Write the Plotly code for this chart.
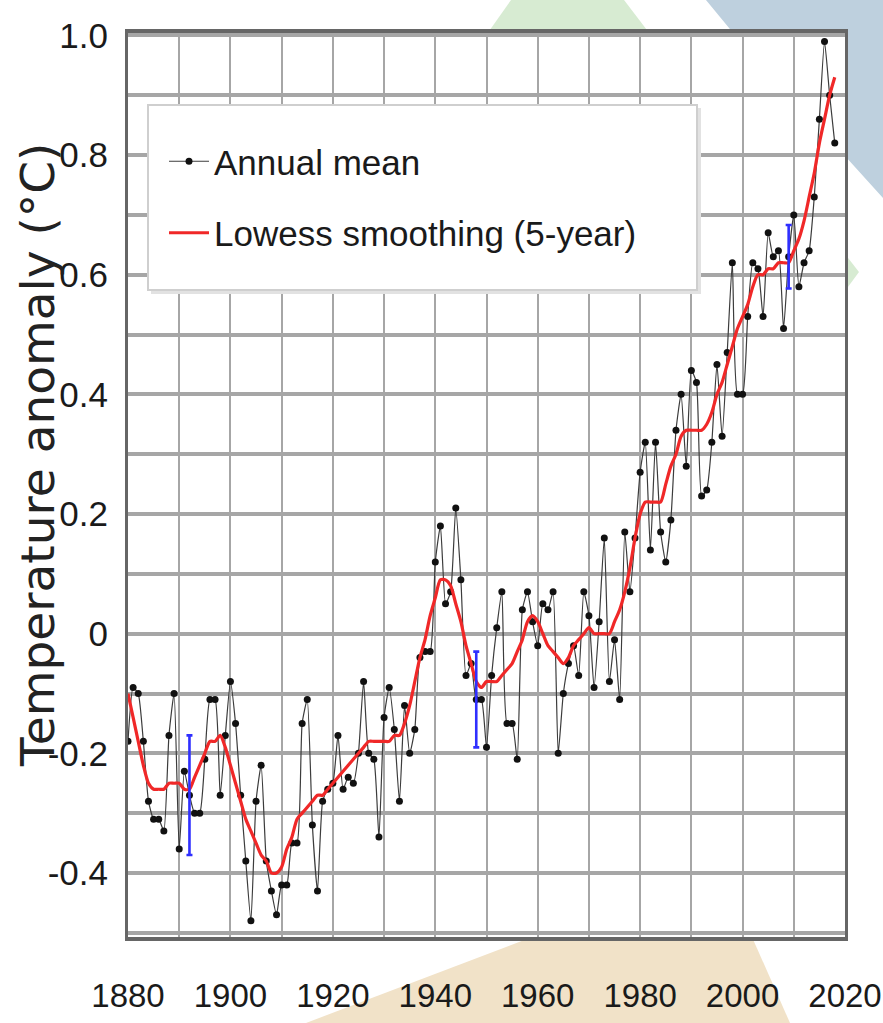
import plotly.graph_objects as go

# ---- data -------------------------------------------------------------
years = list(range(1880, 2019))

annual_mean = [
    -0.18, -0.09, -0.10, -0.18, -0.28, -0.31, -0.31, -0.33, -0.17, -0.10,   # 1880s
    -0.36, -0.23, -0.27, -0.30, -0.30, -0.21, -0.11, -0.11, -0.27, -0.17,   # 1890s
    -0.08, -0.15, -0.27, -0.38, -0.48, -0.28, -0.22, -0.38, -0.43, -0.47,   # 1900s
    -0.42, -0.42, -0.35, -0.35, -0.15, -0.11, -0.32, -0.43, -0.28, -0.26,   # 1910s
    -0.25, -0.17, -0.26, -0.24, -0.25, -0.20, -0.08, -0.20, -0.21, -0.34,   # 1920s
    -0.14, -0.09, -0.16, -0.28, -0.12, -0.20, -0.16, -0.04, -0.03, -0.03,   # 1930s
     0.12,  0.18,  0.05,  0.07,  0.21,  0.09, -0.07, -0.05, -0.11, -0.11,   # 1940s
    -0.19, -0.07,  0.01,  0.07, -0.15, -0.15, -0.21,  0.04,  0.07,  0.02,   # 1950s
    -0.02,  0.05,  0.04,  0.07, -0.20, -0.10, -0.05, -0.02, -0.07,  0.07,   # 1960s
     0.03, -0.09,  0.02,  0.16, -0.08, -0.01, -0.11,  0.17,  0.07,  0.16,   # 1970s
     0.27,  0.32,  0.14,  0.32,  0.17,  0.12,  0.19,  0.34,  0.40,  0.28,   # 1980s
     0.44,  0.42,  0.23,  0.24,  0.32,  0.45,  0.33,  0.47,  0.62,  0.40,   # 1990s
     0.40,  0.53,  0.62,  0.61,  0.53,  0.67,  0.63,  0.64,  0.51,  0.63,   # 2000s
     0.70,  0.58,  0.62,  0.64,  0.73,  0.86,  0.99,  0.90,  0.82,          # 2010s
]

lowess_5yr = [
    -0.10, -0.14, -0.18, -0.22, -0.25, -0.26, -0.26, -0.26, -0.25, -0.25,
    -0.25, -0.26, -0.26, -0.24, -0.22, -0.20, -0.18, -0.18, -0.17, -0.19,
    -0.22, -0.25, -0.28, -0.31, -0.33, -0.35, -0.37, -0.38, -0.40, -0.40,
    -0.39, -0.36, -0.34, -0.31, -0.30, -0.29, -0.28, -0.27, -0.27, -0.26,
    -0.25, -0.24, -0.23, -0.22, -0.21, -0.20, -0.19, -0.18, -0.18, -0.18,
    -0.18, -0.18, -0.17, -0.17, -0.15, -0.12, -0.08, -0.04, -0.01,  0.03,
     0.06,  0.09,  0.09,  0.08,  0.05,  0.02, -0.02, -0.05, -0.08, -0.09,
    -0.08, -0.08, -0.08, -0.07, -0.06, -0.05, -0.03, -0.01,  0.02,  0.03,
     0.02,  0.00, -0.02, -0.03, -0.04, -0.05, -0.04, -0.02, -0.01,  0.00,
     0.01,  0.00,  0.00,  0.00,  0.00,  0.02,  0.04,  0.07,  0.11,  0.16,
     0.20,  0.22,  0.22,  0.22,  0.22,  0.25,  0.28,  0.30,  0.33,  0.34,
     0.34,  0.34,  0.34,  0.35,  0.37,  0.40,  0.42,  0.45,  0.48,  0.51,
     0.53,  0.55,  0.58,  0.60,  0.60,  0.61,  0.61,  0.62,  0.62,  0.62,
     0.64,  0.66,  0.69,  0.73,  0.77,  0.82,  0.86,  0.90,  0.93,
]

uncertainty_years = [1892, 1948, 2009]
uncertainty_half = [0.10, 0.08, 0.053]

x_tick_vals = [1880, 1900, 1920, 1940, 1960, 1980, 2000, 2020]
y_tick_vals = [-0.4, -0.2, 0.0, 0.2, 0.4, 0.6, 0.8, 1.0]
y_tick_text = ["-0.4", "-0.2", "0", "0.2", "0.4", "0.6", "0.8", "1.0"]

# ---- styling ----------------------------------------------------------
W, H = 883, 1023
ML, MR, MT, MB = 128, 38, 33, 86
SANS = "Liberation Sans, Arial, sans-serif"
WIDE = "DejaVu Sans, Liberation Sans, sans-serif"
GRID = "#a6a6a6"
FRAME = "#666666"
TEXT = "#1a1a1a"

fig = go.Figure()

fig.add_trace(go.Scatter(
    x=years, y=annual_mean, mode="lines+markers", name="Annual mean",
    line=dict(color="#3c3c3c", width=1.2, shape="spline", smoothing=0.5),
    marker=dict(color="#111111", size=7),
    legendgroup="annual",
))
fig.add_trace(go.Scatter(
    x=years, y=lowess_5yr, mode="lines", name="Lowess smoothing (5-year)",
    line=dict(color="#f02828", width=3.2, shape="spline", smoothing=0.7),
    legendgroup="lowess",
))

unc_centers = [annual_mean[years.index(y)] for y in uncertainty_years]
fig.add_trace(go.Scatter(
    x=uncertainty_years, y=unc_centers, mode="markers",
    marker=dict(size=2, color="rgba(0,0,0,0)"),
    error_y=dict(type="data", array=uncertainty_half, color="#2f2fff",
                 thickness=2.6, width=3),
    showlegend=False, hoverinfo="skip",
))


# page pixels -> paper fractions
def px(xp):
    return (xp - ML) / (W - ML - MR)


def py(yp):
    return (H - MB - yp) / (H - MT - MB)


def poly(points, color):
    path = "M " + " L ".join(f"{px(a):.4f},{py(b):.4f}" for a, b in points) + " Z"
    return dict(type="path", xref="paper", yref="paper", path=path,
                fillcolor=color, line=dict(width=0), layer="below")


shapes = [
    # decorative background panels around the plot frame
    poly([(706, 0), (883, 0), (883, 198), (845, 156), (734, 34)], "#bed0de"),
    poly([(487, 34), (511, 0), (624, 0), (650, 34)], "#d7ebd2"),
    poly([(845, 254), (859, 272), (845, 291)], "#d7ebd2"),
    poly([(306, 1023), (532, 937), (752, 937), (790, 1023)], "#f1e2c8"),
    dict(type="rect", xref="paper", yref="paper", x0=0, x1=1, y0=0, y1=1,
         fillcolor="white", line=dict(width=0), layer="below"),
    # legend panel: soft shadow, then white box over the grid
    dict(type="rect", xref="paper", yref="paper",
         x0=px(151), x1=px(701), y0=py(294), y1=py(108),
         fillcolor="#e2e2e2", line=dict(width=0), layer="above"),
    dict(type="rect", xref="paper", yref="paper",
         x0=px(148), x1=px(697), y0=py(290), y1=py(105),
         fillcolor="white", line=dict(color="#cfcfcf", width=2), layer="above"),
]

fig.update_layout(
    width=W, height=H,
    margin=dict(l=ML, r=MR, t=MT, b=MB, autoexpand=False),
    paper_bgcolor="white", plot_bgcolor="white",
    shapes=shapes,
    showlegend=True,
    legend=dict(
        x=px(164), y=py(132), xanchor="left", yanchor="top",
        bgcolor="rgba(0,0,0,0)", borderwidth=0,
        font=dict(family=SANS, size=35, color=TEXT),
        tracegroupgap=23, itemwidth=40,
    ),
    annotations=[dict(
        text="Temperature anomaly (°C)", textangle=-90,
        xref="paper", yref="paper", x=px(37), y=py(455),
        xanchor="center", yanchor="middle", showarrow=False,
        font=dict(family=WIDE, size=47, color="#222222"),
    )],
)

fig.update_xaxes(
    range=[1880, 2020], tickmode="array", tickvals=x_tick_vals,
    showgrid=True, gridcolor=GRID, gridwidth=2,
    minor=dict(tickmode="linear", tick0=1880, dtick=10, showgrid=True,
               gridcolor=GRID, gridwidth=2),
    showline=True, mirror=True, linecolor=FRAME, linewidth=3.5,
    zeroline=False, ticks="", ticklabelstandoff=27,
    automargin=False, ticklabeloverflow="allow",
    tickfont=dict(family=SANS, size=33, color=TEXT),
)
fig.update_yaxes(
    range=[-0.507, 1.004], tickmode="array",
    tickvals=y_tick_vals, ticktext=y_tick_text,
    showgrid=True, gridcolor=GRID, gridwidth=3.5,
    minor=dict(tickmode="linear", tick0=0, dtick=0.1, showgrid=True,
               gridcolor=GRID, gridwidth=3.5),
    showline=True, mirror=True, linecolor=FRAME, linewidth=3,
    zeroline=False, ticks="", ticklabelstandoff=10,
    automargin=False,
    tickfont=dict(family=SANS, size=35, color=TEXT),
)

fig.write_html("out.html")
